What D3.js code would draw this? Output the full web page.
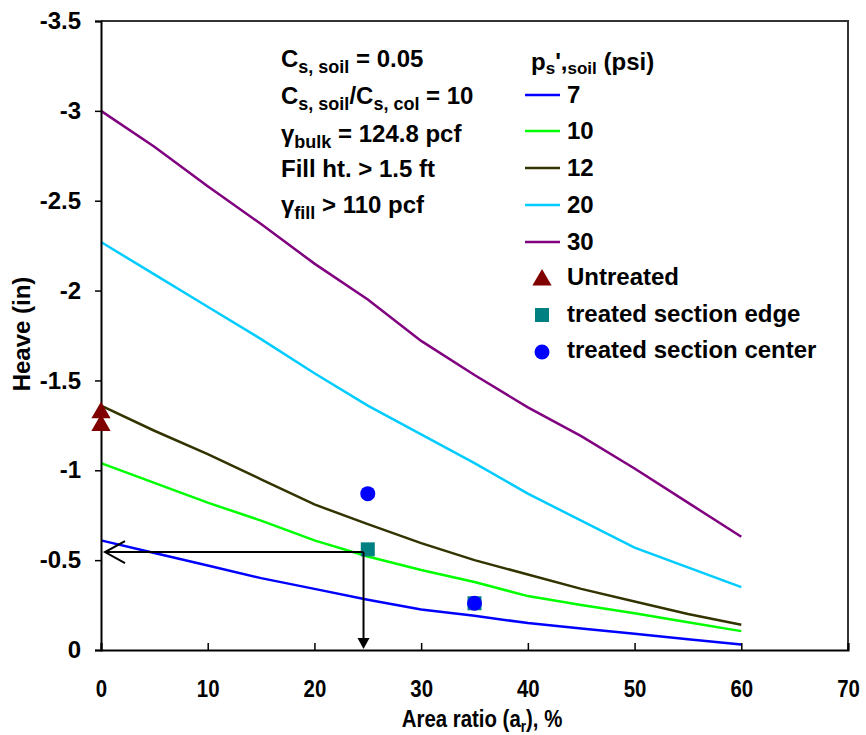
<!DOCTYPE html>
<html><head><meta charset="utf-8">
<script src="https://cdn.jsdelivr.net/npm/d3@7"></script>
<style>
html,body{margin:0;padding:0;background:#fff;}
text{font-family:"Liberation Sans",Arial,sans-serif;font-weight:bold;fill:#000;}
</style></head>
<body>
<svg id="c" width="866" height="735"></svg>
<script>
// ---- data ----
const areaRatio = [0,5,10,15,20,25,30,35,40,45,50,55,60];
const heave7  = [-0.61,-0.54,-0.47,-0.40,-0.34,-0.28,-0.225,-0.19,-0.15,-0.12,-0.09,-0.06,-0.03];
const heave10 = [-1.04,-0.93,-0.82,-0.72,-0.61,-0.52,-0.445,-0.378,-0.30,-0.25,-0.205,-0.155,-0.105];
const heave12 = [-1.36,-1.22,-1.09,-0.95,-0.81,-0.70,-0.595,-0.50,-0.42,-0.34,-0.27,-0.20,-0.14];
const heave20 = [-2.27,-2.09,-1.91,-1.73,-1.54,-1.36,-1.20,-1.04,-0.87,-0.72,-0.57,-0.46,-0.35];
const heave30 = [-3.00,-2.80,-2.58,-2.37,-2.15,-1.95,-1.72,-1.53,-1.35,-1.19,-1.01,-0.82,-0.63];
const seriesNames = ["7","10","12","20","30"];
const seriesColors = ["#0000ff","#00ff00","#333300","#00ccff","#800080"];
const untreatedX = [0,0], untreatedY = [-1.32,-1.25];
const edgeX = [25,35], edgeY = [-0.56,-0.26];
const centerX = [25,35], centerY = [-0.87,-0.26];
const arrowX = 24.6, arrowY = -0.545;
const xTicks = [0,10,20,30,40,50,60,70];
const yTicks = [0,-0.5,-1,-1.5,-2,-2.5,-3,-3.5];

// ---- layout ----
const svg = d3.select("#c");
const L=101, R=848, T=21, B=650;
const x = d3.scaleLinear().domain([0,70]).range([L,R]);
const y = d3.scaleLinear().domain([0,-3.5]).range([B,T]);

// frame (top/right)
svg.append("path").attr("d",`M${L},${T}H${R}V${B}`).attr("fill","none").attr("stroke","#333").attr("stroke-width",2);

// curves
const allSeries=[heave7,heave10,heave12,heave20,heave30];
const line = d3.line().x(d=>x(d[0])).y(d=>y(d[1]));
allSeries.forEach((s,i)=>{
  svg.append("path").datum(areaRatio.map((a,j)=>[a,s[j]]))
    .attr("d",line).attr("fill","none").attr("stroke",seriesColors[i]).attr("stroke-width",2.5);
});

// axes
const xAxis = svg.append("g").attr("transform",`translate(0,${B})`)
  .call(d3.axisBottom(x).tickValues(xTicks).tickSize(-7).tickPadding(30).tickFormat(d3.format("d")));
const yAxis = svg.append("g").attr("transform",`translate(${L},0)`)
  .call(d3.axisLeft(y).tickValues(yTicks).tickSize(6).tickPadding(14).tickFormat(d=>d===0?"0":String(d)));
[xAxis,yAxis].forEach(g=>{
  g.select(".domain").attr("stroke","#000").attr("stroke-width",2);
  g.selectAll(".tick line").attr("stroke","#000").attr("stroke-width",1.5);
  g.selectAll(".tick text").style("font-size","24px").style("font-family","'Liberation Sans',Arial,sans-serif").style("font-weight","bold").attr("fill","#000");
});
xAxis.selectAll(".tick text").attr("transform","scale(0.85,1)");

// axis titles
const xt = svg.append("text").attr("transform","translate(482,727) scale(0.85,1)").attr("text-anchor","middle").style("font-size","24px");
xt.append("tspan").text("Area ratio (a");
xt.append("tspan").attr("dy",5).style("font-size","16px").text("r");
xt.append("tspan").attr("dy",-5).text("), %");
svg.append("text").attr("transform","translate(30,334) rotate(-90)").attr("text-anchor","middle").style("font-size","24px").text("Heave (in)");

// markers
const tri = d3.symbol().type(d3.symbolTriangle).size(160);
untreatedX.forEach((v,i)=>svg.append("path").attr("d",tri).attr("transform",`translate(${x(v)},${y(untreatedY[i])})`).attr("fill","#800000"));
edgeX.forEach((v,i)=>svg.append("rect").attr("x",x(v)-7).attr("y",y(edgeY[i])-7).attr("width",14).attr("height",14).attr("fill","#008080"));
centerX.forEach((v,i)=>svg.append("circle").attr("cx",x(v)).attr("cy",y(centerY[i])).attr("r",7.5).attr("fill","#0000ff"));

// arrows
const ax=x(arrowX), ay=y(arrowY);
svg.append("path").attr("d",`M${ax},${ay}H${x(0)+4}`).attr("stroke","#000").attr("stroke-width",2).attr("fill","none");
svg.append("path").attr("d",`M${x(0)+24},${ay-11}L${x(0)+4},${ay}L${x(0)+24},${ay+11}`).attr("stroke","#000").attr("stroke-width",2).attr("fill","none");
svg.append("path").attr("d",`M${ax},${ay}V${y(0)-10}`).attr("stroke","#000").attr("stroke-width",2).attr("fill","none");
svg.append("path").attr("d",`M${ax-6},${y(0)-12}L${ax+6},${y(0)-12}L${ax},${y(0)-1}Z`).attr("fill","#000");

// annotation text
const ann = svg.append("g").style("font-size","24px");
function addLine(yy, parts){
  const t=ann.append("text").attr("x",281).attr("y",yy);
  parts.forEach(p=>{
    const s=t.append("tspan").text(p[0]);
    if(p[1]==="sub") s.attr("dy",6).style("font-size","18px");
    if(p[1]==="up") s.attr("dy",-6);
  });
}
addLine(67,[["C"],["s, soil","sub"],[" = 0.05","up"]]);
addLine(104,[["C"],["s, soil","sub"],["/C","up"],["s, col","sub"],[" = 10","up"]]);
addLine(142,[["γ"],["bulk","sub"],[" = 124.8 pcf","up"]]);
addLine(177,[["Fill ht. > 1.5 ft"]]);
addLine(213,[["γ"],["fill","sub"],[" > 110 pcf","up"]]);

// legend
const lg = svg.append("g").style("font-size","24px");
const lt = lg.append("text").attr("x",531).attr("y",70);
lt.append("tspan").text("p");
lt.append("tspan").attr("dy",4).style("font-size","17px").text("s");
lt.append("tspan").attr("dy",-4).text("',");
lt.append("tspan").attr("dy",4).style("font-size","17px").text("soil");
lt.append("tspan").attr("dy",-4).text(" (psi)");
const legY=[103,139,176,213,250];
seriesNames.forEach((n,i)=>{
  lg.append("line").attr("x1",525).attr("x2",560).attr("y1",legY[i]-8).attr("y2",legY[i]-8).attr("stroke",seriesColors[i]).attr("stroke-width",2.5);
  lg.append("text").attr("x",567).attr("y",legY[i]).text(n);
});
const mk=[["Untreated",285],["treated section edge",322],["treated section center",358]];
lg.append("path").attr("d",tri).attr("transform",`translate(542,${mk[0][1]-5})`).attr("fill","#800000");
lg.append("rect").attr("x",535).attr("y",mk[1][1]-14).attr("width",14).attr("height",14).attr("fill","#008080");
lg.append("circle").attr("cx",542).attr("cy",mk[2][1]-6).attr("r",7.5).attr("fill","#0000ff");
mk.forEach(m=>lg.append("text").attr("x",567).attr("y",m[1]).text(m[0]));
</script>
</body></html>
